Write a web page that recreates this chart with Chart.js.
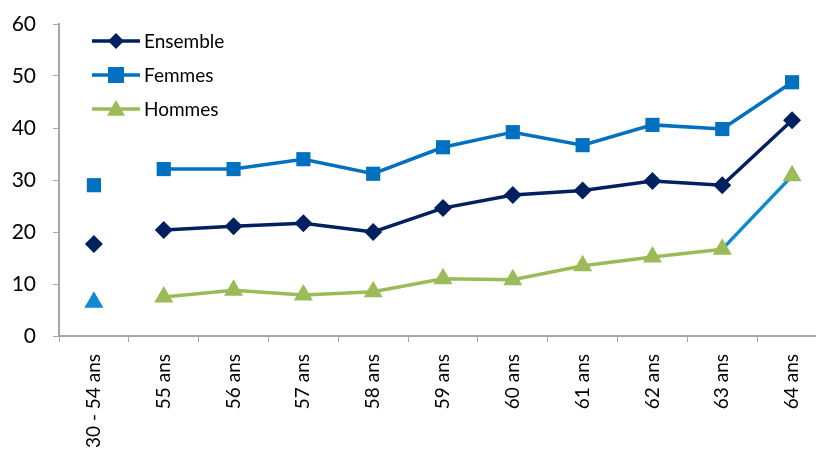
<!DOCTYPE html>
<html>
<head>
<meta charset="utf-8">
<script src="https://cdn.jsdelivr.net/npm/chart.js@4"></script>
<style>
  html, body { margin: 0; padding: 0; background: #fff; overflow: hidden; }
  #wrap { width: 816px; height: 458px; overflow: hidden; position: relative; }
  #box { width: 838px; height: 458px; }
</style>
</head>
<body>
<div id="wrap"><div id="box"><canvas id="myChart"></canvas></div></div>
<script>
// categories (age groups)
const labels = ['30 - 54 ans', '55 ans', '56 ans', '57 ans', '58 ans', '59 ans', '60 ans', '61 ans', '62 ans', '63 ans', '64 ans'];
// series values
const ensemble = [17.7, 20.4, 21.1, 21.7, 20.0, 24.6, 27.1, 28.0, 29.8, 29.0, 41.5];
const femmes = [29.0, 32.1, 32.1, 34.0, 31.2, 36.3, 39.2, 36.7, 40.6, 39.8, 48.8];
const hommes = [6.5, 7.5, 8.8, 7.9, 8.5, 11.0, 10.8, 13.5, 15.2, 16.7, 30.8];
// y axis ticks
const yTicks = [0, 10, 20, 30, 40, 50, 60];

const NAVY = '#002060';
const BLUE = '#0070C0';
const GREEN = '#9BBB59';
const LIGHTBLUE = '#0E8AD2';
const FONT = 'Lato, "Open Sans", sans-serif';

// the first category stands alone: no segment to the second point
function gapFirst(color) {
    return ctx => ctx.p0DataIndex === 0 ? 'rgba(0,0,0,0)' : color;
}

const legendItems = [
    { text: 'Ensemble', color: NAVY, style: 'rectRot', r: 8 },
    { text: 'Femmes', color: BLUE, style: 'rect', r: 8 },
    { text: 'Hommes', color: GREEN, style: 'triangle', r: 9 }
];

function drawMarker(ctx, style, x, y, r, color) {
    ctx.save();
    ctx.fillStyle = color;
    ctx.beginPath();
    if (style === 'rectRot') {
        ctx.moveTo(x, y - r); ctx.lineTo(x + r, y); ctx.lineTo(x, y + r); ctx.lineTo(x - r, y);
    } else if (style === 'rect') {
        ctx.rect(x - r, y - r, 2 * r, 2 * r);
    } else {
        ctx.moveTo(x, y - r); ctx.lineTo(x + r, y + r * 0.75); ctx.lineTo(x - r, y + r * 0.75);
    }
    ctx.closePath();
    ctx.fill();
    ctx.restore();
}

// legend drawn inside the plot, Excel style (line + marker)
const lineLegend = {
    id: 'lineLegend',
    afterDraw(chart) {
        const ctx = chart.ctx;
        legendItems.forEach((it, i) => {
            const y = 41 + i * 34;
            ctx.save();
            ctx.strokeStyle = it.color;
            ctx.lineWidth = 3.5;
            ctx.beginPath();
            ctx.moveTo(92, y);
            ctx.lineTo(140, y);
            ctx.stroke();
            ctx.restore();
            drawMarker(ctx, it.style, 116, y, it.r, it.color);
            ctx.fillStyle = '#000';
            ctx.font = '19px ' + FONT;
            ctx.textBaseline = 'middle';
            ctx.fillText(it.text, 144, y + 1);
        });
    }
};

const ctx = document.getElementById('myChart').getContext('2d');
new Chart(ctx, {
    type: 'line',
    data: {
        labels: labels,
        datasets: [
            {
                label: 'Ensemble',
                data: ensemble,
                borderColor: NAVY,
                backgroundColor: NAVY,
                borderWidth: 3.5,
                pointStyle: 'rectRot',
                pointRadius: 9,
                pointHoverRadius: 9,
                pointBorderWidth: 0,
                segment: { borderColor: gapFirst(NAVY) }
            },
            {
                label: 'Femmes',
                data: femmes,
                borderColor: BLUE,
                backgroundColor: BLUE,
                borderWidth: 3.5,
                pointStyle: 'rect',
                pointRadius: 10,
                pointHoverRadius: 10,
                pointBorderWidth: 0,
                segment: { borderColor: gapFirst(BLUE) }
            },
            {
                label: 'Hommes',
                data: hommes,
                borderColor: GREEN,
                backgroundColor: labels.map((l, i) => i === 0 ? LIGHTBLUE : GREEN),
                borderWidth: 3.5,
                pointStyle: 'triangle',
                pointRadius: 11,
                pointHoverRadius: 11,
                pointBorderWidth: 0,
                segment: {
                    borderColor: c => c.p0DataIndex === 0 ? 'rgba(0,0,0,0)'
                        : (c.p1DataIndex === labels.length - 1 ? LIGHTBLUE : GREEN)
                }
            }
        ]
    },
    options: {
        responsive: true,
        maintainAspectRatio: false,
        animation: false,
        layout: { padding: { top: 24, right: 4, left: 0, bottom: 0 } },
        plugins: { legend: { display: false }, tooltip: { enabled: false } },
        scales: {
            x: {
                offset: true,
                grid: { display: true, drawOnChartArea: false, drawTicks: true, tickLength: 6, color: '#A6A6A6', offset: true },
                border: { color: '#A6A6A6', width: 2 },
                ticks: { color: '#000', font: { family: FONT, size: 19 }, minRotation: 90, maxRotation: 90, autoSkip: false, padding: 12 },
                afterFit: s => { s.height = 122; }
            },
            y: {
                min: 0,
                max: 60,
                afterBuildTicks: s => { s.ticks = yTicks.map(v => ({ value: v })); },
                grid: { display: true, drawOnChartArea: false, drawTicks: true, tickLength: 6, color: '#A6A6A6' },
                border: { color: '#A6A6A6', width: 2 },
                ticks: { color: '#000', font: { family: FONT, size: 21 }, padding: 17 },
                afterFit: s => { s.width = 59; s.paddingTop = 0; s.paddingBottom = 0; }
            }
        }
    },
    plugins: [lineLegend]
});
</script>
</body>
</html>
